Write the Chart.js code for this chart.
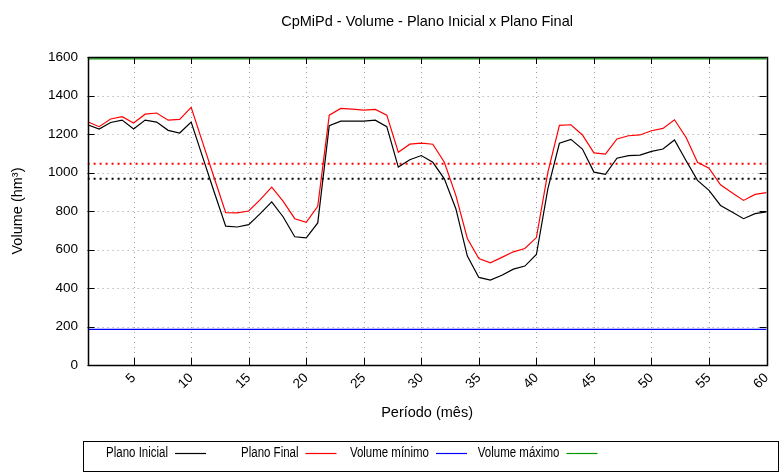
<!DOCTYPE html>
<html>
<head>
<meta charset="utf-8">
<script src="https://cdn.jsdelivr.net/npm/chart.js@4.4.0/dist/chart.umd.min.js"></script>
<style>
  html, body { margin: 0; padding: 0; background: #fff; }
</style>
</head>
<body>
<canvas id="volumeChart" width="783" height="476"></canvas>
<script>
// meses 1..60
const meses = [1, 2, 3, 4, 5, 6, 7, 8, 9, 10, 11, 12, 13, 14, 15, 16, 17, 18, 19, 20,
  21, 22, 23, 24, 25, 26, 27, 28, 29, 30, 31, 32, 33, 34, 35, 36, 37, 38, 39, 40,
  41, 42, 43, 44, 45, 46, 47, 48, 49, 50, 51, 52, 53, 54, 55, 56, 57, 58, 59, 60];

const planoInicial = [1248, 1226, 1260, 1272, 1226, 1272, 1262, 1219, 1205, 1262,
  1080, 899, 721, 717, 729, 786, 847, 769, 666, 660,
  738, 1243, 1267, 1267, 1267, 1272, 1238, 1028, 1066, 1088,
  1053, 967, 812, 566, 455, 441, 466, 498, 514, 574,
  916, 1152, 1172, 1122, 1002, 991, 1074, 1088, 1090, 1110,
  1122, 1169, 1062, 959, 907, 829, 795, 760, 786, 795];

const planoFinal = [1264, 1238, 1278, 1290, 1257, 1303, 1309, 1272, 1276, 1338,
  1155, 973, 791, 790, 800, 859, 924, 850, 760, 741,
  824, 1298, 1333, 1329, 1324, 1328, 1298, 1105, 1147, 1153,
  1147, 1053, 881, 657, 553, 531, 559, 588, 605, 662,
  1002, 1245, 1248, 1195, 1102, 1095, 1174, 1191, 1195, 1217,
  1229, 1274, 1183, 1053, 1022, 936, 895, 855, 886, 895];

const volumeMinimo = 185;
const volumeMaximo = 1590;
const mediaInicial = 968;
const mediaFinal = 1046;

const xTicks = [5, 10, 15, 20, 25, 30, 35, 40, 45, 50, 55, 60];
const yTicks = [0, 200, 400, 600, 800, 1000, 1200, 1400, 1600];

const FONT = 'Liberation Sans, Arial, Helvetica, sans-serif';

function serie(values) {
  return meses.map((m, i) => ({ x: m, y: values[i] }));
}
function constante(v) {
  return [{ x: meses[0], y: v }, { x: meses[meses.length - 1], y: v }];
}

// grid, moldura, titulo e legenda no estilo gnuplot
const gnuplotStyle = {
  id: 'gnuplotStyle',
  beforeDatasetsDraw(chart) {
    const { ctx, chartArea: a, scales: { x, y } } = chart;
    ctx.save();
    ctx.strokeStyle = '#9a9a9a';
    ctx.lineWidth = 1;
    ctx.setLineDash([1, 4]);
    yTicks.forEach(v => {
      const py = Math.round(y.getPixelForValue(v)) + 0.5;
      ctx.beginPath(); ctx.moveTo(a.left, py); ctx.lineTo(a.right, py); ctx.stroke();
    });
    xTicks.forEach(v => {
      const px = Math.round(x.getPixelForValue(v)) + 0.5;
      ctx.beginPath(); ctx.moveTo(px, a.top); ctx.lineTo(px, a.bottom); ctx.stroke();
    });
    ctx.restore();
  },
  afterDatasetsDraw(chart) {
    const { ctx, chartArea: a, scales: { x, y } } = chart;
    const tick = 7;
    ctx.save();
    ctx.strokeStyle = '#000';
    ctx.lineWidth = 1;
    yTicks.forEach(v => {
      const py = Math.round(y.getPixelForValue(v)) + 0.5;
      ctx.beginPath();
      ctx.moveTo(a.left, py); ctx.lineTo(a.left + tick, py);
      ctx.moveTo(a.right, py); ctx.lineTo(a.right - tick, py);
      ctx.stroke();
    });
    xTicks.forEach(v => {
      const px = Math.round(x.getPixelForValue(v)) + 0.5;
      ctx.beginPath();
      ctx.moveTo(px, a.bottom); ctx.lineTo(px, a.bottom - tick);
      ctx.moveTo(px, a.top); ctx.lineTo(px, a.top + tick);
      ctx.stroke();
    });
    ctx.lineWidth = 1.5;
    ctx.strokeRect(Math.round(a.left) + 0.5, Math.round(a.top) + 0.5,
      Math.round(a.right - a.left), Math.round(a.bottom - a.top));
    ctx.restore();
  },
  afterDraw(chart) {
    const { ctx, chartArea: a } = chart;
    ctx.save();
    ctx.fillStyle = '#000';
    ctx.font = '14.5px ' + FONT;
    ctx.textAlign = 'center';
    ctx.textBaseline = 'middle';
    ctx.fillText('CpMiPd - Volume - Plano Inicial x Plano Final', (a.left + a.right) / 2, 22);

    // legenda
    ctx.strokeStyle = '#000';
    ctx.lineWidth = 1;
    ctx.strokeRect(83.5, 441.5, 695, 30);
    const itens = chart.data.datasets.filter(d => d.naLegenda);
    ctx.font = '14px ' + FONT;
    ctx.textAlign = 'right';
    const sx = 0.82;
    itens.forEach((d, i) => {
      const fim = 206 + i * 130.5;
      const ly = 453.5;
      ctx.save();
      ctx.scale(sx, 1);
      ctx.fillStyle = '#000';
      ctx.fillText(d.label, (fim - 38) / sx, ly);
      ctx.restore();
      ctx.strokeStyle = d.borderColor;
      ctx.lineWidth = 1.2;
      ctx.beginPath(); ctx.moveTo(fim - 31, ly); ctx.lineTo(fim, ly); ctx.stroke();
    });
    ctx.restore();
  }
};

new Chart(document.getElementById('volumeChart'), {
  type: 'line',
  data: {
    datasets: [
      { label: 'Plano Inicial', data: serie(planoInicial), borderColor: '#000000', borderWidth: 1.2, naLegenda: true },
      { label: 'Plano Final', data: serie(planoFinal), borderColor: '#ff0000', borderWidth: 1.2, naLegenda: true },
      { label: 'Volume mínimo', data: constante(volumeMinimo), borderColor: '#0000ff', borderWidth: 1.2, naLegenda: true },
      { label: 'Volume máximo', data: constante(volumeMaximo), borderColor: '#009900', borderWidth: 1.2, naLegenda: true },
      { label: 'Média Plano Inicial', data: constante(mediaInicial), borderColor: '#000000', borderWidth: 2, borderDash: [2, 4] },
      { label: 'Média Plano Final', data: constante(mediaFinal), borderColor: '#ff0000', borderWidth: 2, borderDash: [2, 4] }
    ]
  },
  options: {
    responsive: false,
    animation: false,
    elements: { point: { radius: 0 }, line: { tension: 0 } },
    layout: { padding: { top: 57, right: 7, bottom: 36, left: 0 } },
    plugins: { legend: { display: false }, title: { display: false }, tooltip: { enabled: false } },
    scales: {
      x: {
        type: 'linear',
        min: 1,
        max: 60,
        afterBuildTicks: s => { s.ticks = xTicks.map(v => ({ value: v })); },
        afterFit: s => { s.height = 75; },
        grid: { display: false, drawTicks: false },
        border: { display: false },
        ticks: { autoSkip: false, minRotation: 45, maxRotation: 45, padding: 5, color: '#000',
          font: { family: FONT, size: 13.5 }, callback: v => String(v) },
        title: { display: true, text: 'Período (mês)', color: '#000', font: { family: FONT, size: 14.5 }, padding: { bottom: 18 } }
      },
      y: {
        min: 0,
        max: 1600,
        afterBuildTicks: s => { s.ticks = yTicks.map(v => ({ value: v })); },
        afterFit: s => { s.width = 87.6; },
        grid: { display: false, drawTicks: false },
        border: { display: false },
        ticks: { padding: 9.6, color: '#000', font: { family: FONT, size: 13.5 }, callback: v => String(v) },
        title: { display: true, text: 'Volume (hm³)', color: '#000', font: { family: FONT, size: 14.5 }, padding: { top: 9 } }
      }
    }
  },
  plugins: [gnuplotStyle]
});
</script>
</body>
</html>
